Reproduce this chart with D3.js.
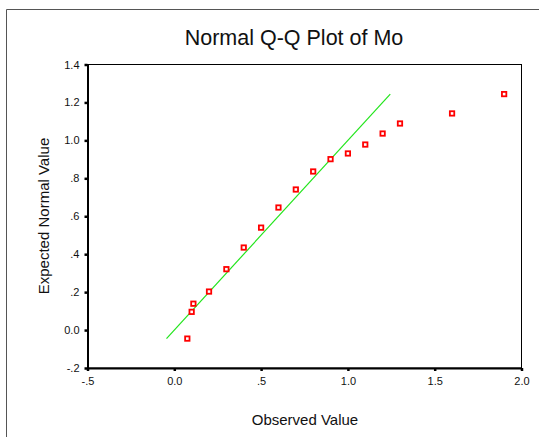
<!DOCTYPE html>
<html><head><meta charset="utf-8">
<script src="https://cdn.jsdelivr.net/npm/d3@7"></script>
<style>
html,body{margin:0;padding:0;background:#fff;}
svg{display:block;font-family:"Liberation Sans",Arial,sans-serif;}
</style></head>
<body>
<script>
const observed = [0.075, 0.10, 0.11, 0.20, 0.30, 0.40, 0.50, 0.60, 0.70, 0.80, 0.90, 1.00, 1.10, 1.20, 1.30, 1.60, 1.90];
const expected = [-0.045, 0.096, 0.139, 0.203, 0.321, 0.435, 0.540, 0.646, 0.741, 0.836, 0.901, 0.931, 0.978, 1.036, 1.089, 1.142, 1.244];
const refLine = [-0.045, 1.244];
const xTicks = [-0.5, 0, 0.5, 1.0, 1.5, 2.0];
const xTickLabels = ["-.5", "0.0", ".5", "1.0", "1.5", "2.0"];
const yTicks = [-0.2, 0, 0.2, 0.4, 0.6, 0.8, 1.0, 1.2, 1.4];
const yTickLabels = ["-.2", "0.0", ".2", ".4", ".6", ".8", "1.0", "1.2", "1.4"];

const W = 539, H = 437;
const L = 87.5, R = 521.5, T = 64.5, B = 368;
const svg = d3.select("body").append("svg").attr("width", W).attr("height", H);

// outer frame
svg.append("path").attr("d", `M6.5,${H} V9.5 H${W}`).attr("fill", "none").attr("stroke", "#555").attr("stroke-width", 1);

const x = d3.scaleLinear().domain([-0.5, 2.0]).range([L, R]);
const y = d3.scaleLinear().domain([-0.2, 1.4]).range([B, T]);

// plot frame
svg.append("rect").attr("x", L).attr("y", T).attr("width", R - L).attr("height", B - T)
  .attr("fill", "none").attr("stroke", "#000").attr("stroke-width", 1);

const xAxis = d3.axisBottom(x).tickValues(xTicks).tickSize(3).tickSizeOuter(0).tickPadding(6)
  .tickFormat((d, i) => xTickLabels[i]);
const gx = svg.append("g").attr("transform", `translate(0,${B})`).call(xAxis);
const yAxis = d3.axisLeft(y).tickValues(yTicks).tickSize(3).tickSizeOuter(0).tickPadding(5)
  .tickFormat((d, i) => yTickLabels[i]);
const gy = svg.append("g").attr("transform", `translate(${L},0)`).call(yAxis);
[gx, gy].forEach(g => {
  g.select(".domain").attr("stroke", "#000").attr("stroke-width", 2);
  g.selectAll(".tick line").attr("stroke", "#000").attr("stroke-width", 2.5);
  g.selectAll(".tick text").attr("fill", "#111").style("font-size", "11px")
    .style("font-family", "'Liberation Sans', Arial, sans-serif");
});

// reference line
svg.append("line")
  .attr("x1", x(refLine[0])).attr("y1", y(refLine[0]))
  .attr("x2", x(refLine[1])).attr("y2", y(refLine[1]))
  .attr("stroke", "#22e51c").attr("stroke-width", 1.2);

// points
const pts = observed.map((v, i) => [v, expected[i]]);
svg.append("g").selectAll("rect").data(pts).join("rect")
  .attr("x", d => x(d[0]) - 2.2).attr("y", d => y(d[1]) - 2.2)
  .attr("width", 4.4).attr("height", 4.4)
  .attr("fill", "#fff").attr("stroke", "#f00").attr("stroke-width", 1.8);

// title
svg.append("text").attr("x", 294).attr("y", 45).attr("text-anchor", "middle")
  .style("font-size", "21.5px").attr("fill", "#111").text("Normal Q-Q Plot of Mo");

// axis titles
svg.append("text").attr("x", 305).attr("y", 425).attr("text-anchor", "middle")
  .style("font-size", "15px").attr("fill", "#111").text("Observed Value");
svg.append("text").attr("transform", "translate(49,216) rotate(-90)").attr("text-anchor", "middle")
  .style("font-size", "15px").attr("fill", "#111").text("Expected Normal Value");
</script>
</body></html>
